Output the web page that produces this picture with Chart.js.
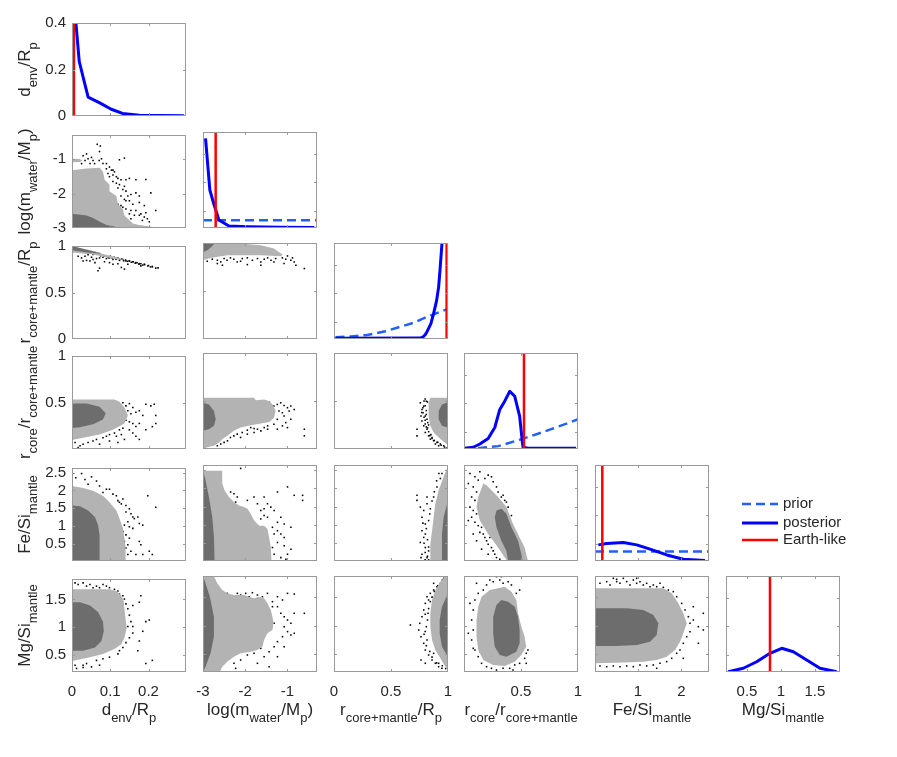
<!DOCTYPE html>
<html><head><meta charset="utf-8">
<script src="https://cdn.jsdelivr.net/npm/chart.js@4/dist/chart.umd.min.js"></script>
<style>html,body{margin:0;padding:0;background:#fff;}#fig{position:relative;width:897px;height:757px;overflow:hidden;background:#fff;}canvas{position:absolute;}</style>
</head><body><div id="fig"></div>
<script>
// ---------------- data ----------------
const VAR_TITLES = ['d_{env}/R_{p}', 'log(m_{water}/M_{p})', 'r_{core+mantle}/R_{p}', 'r_{core}/r_{core+mantle}', 'Fe/Si_{mantle}', 'Mg/Si_{mantle}'];
const VAR_MIN = [0, -3, 0, 0, 0.02, 0.19];
const VAR_MAX = [0.298, -0.3, 1, 1, 2.63, 1.87];
const X_TICKS = [[0, 0.1, 0.2], [-3, -2, -1], [0, 0.5, 1], [0.5, 1], [1, 2], [0.5, 1, 1.5]];
const Y_TICKS = [[0, 0.2, 0.4], [-3, -2, -1], [0, 0.5, 1], [0.5, 1], [0.5, 1, 1.5, 2, 2.5], [0.5, 1, 1.5]];
const DIAG_YMAX = [0.4, 1, 1, 1, 1, 1];
const DIAG_YTICKS = [[0, 0.2, 0.4], [0.18, 0.48, 0.77], [0.18, 0.48, 0.77], [0.18, 0.48, 0.77], [0.18, 0.48, 0.77], [0.18, 0.48, 0.77]];
const EARTH_LIKE = [0.005, -2.70, 0.988, 0.526, 0.187, 0.838];
const LEGEND_LABELS = ['prior', 'posterior', 'Earth-like'];

const post_denv = [[0.006,0.48],[0.0189,0.235],[0.0292,0.166],[0.0422,0.081],[0.0725,0.0565],[0.1027,0.029],[0.132,0.011],[0.176,0.003],[0.2925,0.001]];
const post_logw = [[-2.94,0.934],[-2.838,0.396],[-2.743,0.25],[-2.624,0.083],[-2.386,0.021],[-1.949,0.014],[-1.156,0.008],[-0.364,0.004]];
const prior_logw = [[-3,0.08],[-0.3,0.08]];
const post_rcm = [[0.013,0.008],[0.757,0.01],[0.78,0.02],[0.80,0.045],[0.816,0.076],[0.85,0.16],[0.874,0.267],[0.90,0.40],[0.918,0.543],[0.93,0.72],[0.947,0.994],[0.96,1.3]];
const prior_rcm = [[0.013,0.018],[0.15,0.027],[0.29,0.042],[0.45,0.08],[0.58,0.127],[0.7,0.17],[0.816,0.231],[0.9,0.27],[0.99,0.308]];
const post_rcore = [[0.009,0.007],[0.081,0.018],[0.139,0.052],[0.212,0.110],[0.270,0.224],[0.314,0.412],[0.357,0.498],[0.401,0.601],[0.445,0.549],[0.488,0.343],[0.517,0.018],[0.561,0.007],[0.983,0.007]];
const prior_rcore = [[0.0,0.008],[0.15,0.012],[0.30,0.03],[0.5,0.1],[0.7,0.18],[0.9,0.265],[1.0,0.31]];
const post_fesi = [[0.096,0.168],[0.288,0.182],[0.668,0.193],[0.975,0.168],[1.279,0.123],[1.662,0.063],[2.042,0.018],[2.538,0.004]];
const prior_fesi = [[0.02,0.098],[2.63,0.098]];
const post_mgsi = [[0.224,0.003],[0.445,0.039],[0.642,0.107],[0.838,0.195],[1.011,0.247],[1.182,0.211],[1.379,0.125],[1.575,0.039],[1.821,0.003]];

// 2D panels: light (outer) region, dark (inner) region, scattered samples
const light_1_0 = [[0,-3],[0,-1.321],[0.038,-1.276],[0.0725,-1.248],[0.081,-1.369],[0.0854,-1.602],[0.098,-1.743],[0.098,-1.931],[0.116,-2.072],[0.12,-2.305],[0.133,-2.446],[0.137,-2.634],[0.150,-2.775],[0.159,-2.868],[0.176,-2.916],[0.2096,-2.963],[0.22,-3]];
const light2_1_0 = [[0,-0.99],[0.02,-0.995],[0.027,-1.04],[0.02,-1.085],[0,-1.09]];
const dark_1_0 = [[0,-3],[0,-2.587],[0.038,-2.634],[0.055,-2.71],[0.0725,-2.822],[0.090,-2.916],[0.111,-2.96],[0.12,-3]];
const dots_1_0 = [[0.066,-0.57],[0.074,-0.62],[0.072,-0.78],[0.029,-0.90],[0.038,-0.85],[0.034,-1.04],[0.042,-0.99],[0.051,-0.95],[0.055,-1.04],[0.025,-1.13],[0.047,-1.13],[0.059,-1.13],[0.071,-1.04],[0.077,-0.99],[0.081,-1.13],[0.090,-1.13],[0.124,-1.02],[0.137,-0.97],[0.090,-1.28],[0.098,-1.23],[0.103,-1.32],[0.107,-1.32],[0.111,-1.37],[0.094,-1.42],[0.098,-1.51],[0.107,-1.46],[0.116,-1.51],[0.120,-1.56],[0.128,-1.60],[0.141,-1.60],[0.150,-1.56],[0.167,-1.60],[0.193,-1.59],[0.107,-1.65],[0.116,-1.70],[0.124,-1.74],[0.137,-1.79],[0.120,-1.84],[0.133,-1.88],[0.141,-1.93],[0.146,-2.07],[0.154,-2.03],[0.167,-1.98],[0.176,-2.07],[0.206,-1.98],[0.128,-2.07],[0.137,-2.17],[0.141,-2.21],[0.150,-2.21],[0.159,-2.31],[0.176,-2.26],[0.189,-2.35],[0.120,-2.31],[0.128,-2.35],[0.133,-2.40],[0.141,-2.45],[0.154,-2.49],[0.167,-2.49],[0.180,-2.59],[0.193,-2.56],[0.219,-2.49],[0.150,-2.59],[0.163,-2.63],[0.176,-2.63],[0.189,-2.68],[0.197,-2.73],[0.202,-2.82],[0.184,-2.78],[0.154,-2.73]];

const light_2_0 = [[0,1],[0.14,0.853],[0.12,0.855],[0.05,0.91],[0,0.93]];
const dark_2_0 = [[0,1],[0.08,0.916],[0.04,0.93],[0,0.955]];
const dots_2_0 = [[0.016,0.890],[0.025,0.872],[0.034,0.890],[0.042,0.907],[0.051,0.879],[0.055,0.855],[0.064,0.865],[0.072,0.872],[0.081,0.879],[0.090,0.865],[0.098,0.872],[0.107,0.855],[0.116,0.865],[0.124,0.845],[0.133,0.855],[0.141,0.838],[0.150,0.838],[0.159,0.831],[0.167,0.821],[0.176,0.810],[0.189,0.803],[0.198,0.786],[0.210,0.776],[0.219,0.762],[0.068,0.734],[0.072,0.762],[0.129,0.769],[0.137,0.752],[0.047,0.838],[0.060,0.821],[0.085,0.831],[0.098,0.821],[0.029,0.838],[0.038,0.845],[0.107,0.803],[0.120,0.810],[0.180,0.786],[0.146,0.803],[0.02,0.97],[0.03,0.96],[0.04,0.95],[0.05,0.94],[0.06,0.93],[0.07,0.92],[0.08,0.905],[0.09,0.895],[0.10,0.89],[0.11,0.88],[0.12,0.87],[0.13,0.86],[0.14,0.85],[0.15,0.84],[0.16,0.83],[0.17,0.82],[0.18,0.81],[0.19,0.80],[0.20,0.79],[0.21,0.78],[0.015,0.95],[0.035,0.93],[0.055,0.91],[0.075,0.895],[0.095,0.875],[0.115,0.858],[0.135,0.84],[0.155,0.825],[0.175,0.805],[0.01,0.975],[0.025,0.955],[0.045,0.935],[0.065,0.915],[0.085,0.89],[0.105,0.87],[0.125,0.855],[0.145,0.835],[0.165,0.815],[0.185,0.795],[0.205,0.775],[0.225,0.765]];

const light_2_1 = [[-3,1],[-2.27,1],[-1.63,0.976],[-1.32,0.942],[-1.12,0.879],[-1.15,0.862],[-1.63,0.872],[-2.42,0.872],[-2.82,0.844],[-3,0.82]];
const dark_2_1 = [[-3,1],[-2.72,1],[-2.78,0.97],[-2.88,0.93],[-3,0.90]];
const dots_2_1 = [[-2.90,0.810],[-2.78,0.831],[-2.66,0.820],[-2.58,0.803],[-2.50,0.838],[-2.43,0.820],[-2.35,0.845],[-2.27,0.831],[-2.19,0.803],[-2.07,0.838],[-1.95,0.845],[-1.83,0.820],[-1.71,0.838],[-1.63,0.803],[-1.55,0.831],[-1.47,0.845],[-1.39,0.820],[-1.28,0.838],[-1.20,0.886],[-1.12,0.845],[-1.04,0.831],[-1.00,0.865],[-0.92,0.820],[-0.84,0.803],[-0.80,0.768],[-0.60,0.734],[-2.54,0.768],[-1.95,0.775],[-1.63,0.768],[-2.66,0.786],[-2.11,0.810],[-1.32,0.803],[-1.08,0.786],[-0.88,0.845]];

const light_3_0 = [[0,0.533],[0.111,0.533],[0.124,0.509],[0.137,0.447],[0.146,0.361],[0.137,0.275],[0.107,0.206],[0.072,0.155],[0.029,0.120],[0,0.096]];
const dark_3_0 = [[0,0.488],[0.038,0.488],[0.072,0.454],[0.088,0.385],[0.081,0.316],[0.055,0.265],[0.021,0.234],[0,0.227]];
const dots_3_0 = [[0.111,0.515],[0.120,0.481],[0.133,0.498],[0.141,0.464],[0.150,0.488],[0.159,0.447],[0.146,0.412],[0.154,0.378],[0.167,0.395],[0.176,0.412],[0.185,0.361],[0.193,0.481],[0.206,0.464],[0.215,0.481],[0.219,0.361],[0.141,0.309],[0.150,0.292],[0.159,0.275],[0.167,0.241],[0.176,0.275],[0.133,0.223],[0.124,0.206],[0.111,0.172],[0.098,0.155],[0.090,0.137],[0.081,0.120],[0.064,0.103],[0.055,0.086],[0.042,0.069],[0.029,0.052],[0.021,0.034],[0.116,0.137],[0.129,0.155],[0.150,0.206],[0.159,0.172],[0.167,0.137],[0.176,0.103],[0.072,0.052],[0.098,0.086],[0.120,0.069],[0.137,0.103],[0.193,0.206],[0.210,0.241],[0.219,0.275],[0.008,0.069],[0.016,0.017]];

const light_3_1 = [[-3,0.533],[-1.79,0.533],[-1.75,0.509],[-1.55,0.515],[-1.43,0.498],[-1.35,0.464],[-1.28,0.395],[-1.32,0.326],[-1.43,0.282],[-1.63,0.265],[-1.87,0.247],[-2.11,0.223],[-2.27,0.189],[-2.42,0.137],[-2.54,0.103],[-2.62,0.069],[-2.74,0.034],[-2.90,0.017],[-3,0]];
const dark_3_1 = [[-3,0.481],[-2.86,0.464],[-2.74,0.395],[-2.70,0.309],[-2.74,0.241],[-2.86,0.206],[-3,0.189]];
const dots_3_1 = [[-1.71,0.481],[-1.63,0.464],[-1.51,0.474],[-1.43,0.488],[-1.32,0.447],[-1.24,0.464],[-1.16,0.481],[-1.08,0.454],[-1.00,0.430],[-0.92,0.447],[-0.84,0.412],[-1.20,0.395],[-1.12,0.378],[-1.08,0.344],[-0.96,0.395],[-1.24,0.309],[-1.32,0.258],[-1.47,0.241],[-1.55,0.223],[-1.71,0.206],[-1.79,0.213],[-1.95,0.196],[-2.07,0.172],[-2.19,0.155],[-2.27,0.137],[-2.35,0.120],[-2.42,0.086],[-2.50,0.069],[-2.58,0.052],[-2.66,0.034],[-2.11,0.120],[-1.95,0.155],[-1.79,0.172],[-1.63,0.189],[-1.47,0.206],[-1.24,0.206],[-1.00,0.223],[-0.60,0.206],[-0.60,0.137],[-1.04,0.275],[-0.92,0.309],[-1.12,0.241],[-1.87,0.223]];

const light_3_2 = [[1,0.533],[0.845,0.533],[0.830,0.481],[0.830,0.344],[0.845,0.241],[0.874,0.172],[0.933,0.103],[1,0.04]];
const dark_3_2 = [[1,0.488],[0.947,0.464],[0.918,0.395],[0.918,0.309],[0.947,0.241],[1,0.223]];
const dots_3_2 = [[0.757,0.481],[0.772,0.412],[0.787,0.447],[0.801,0.344],[0.772,0.292],[0.787,0.241],[0.816,0.206],[0.801,0.172],[0.830,0.137],[0.845,0.103],[0.874,0.086],[0.903,0.069],[0.933,0.052],[0.962,0.034],[0.728,0.206],[0.728,0.137],[0.810,0.498],[0.781,0.378],[0.822,0.275],[0.860,0.120],[0.889,0.052],[0.918,0.034],[0.816,0.309],[0.763,0.344],[0.80,0.45],[0.81,0.40],[0.79,0.33],[0.80,0.26],[0.82,0.22],[0.83,0.18],[0.85,0.15],[0.81,0.36],[0.79,0.50],[0.80,0.52],[0.78,0.43],[0.77,0.38],[0.82,0.49],[0.80,0.30],[0.84,0.14],[0.86,0.11],[0.88,0.09],[0.91,0.07],[0.94,0.04],[0.97,0.02],[0.99,0.01],[0.83,0.25],[0.81,0.23]];

const light_4_0 = [[0,2.126],[0.029,2.07],[0.055,1.99],[0.081,1.85],[0.098,1.67],[0.116,1.44],[0.124,1.21],[0.133,0.936],[0.137,0.661],[0.140,0.386],[0.140,0.02],[0,0.02]];
const dark_4_0 = [[0,1.577],[0.021,1.558],[0.042,1.44],[0.060,1.256],[0.068,1.027],[0.072,0.752],[0.072,0.386],[0.072,0.02],[0,0.02]];
const dots_4_0 = [[0.010,2.355],[0.025,2.474],[0.034,2.309],[0.042,2.172],[0.051,2.382],[0.064,2.263],[0.072,2.126],[0.081,1.943],[0.098,2.034],[0.116,1.851],[0.124,1.668],[0.133,1.760],[0.141,1.577],[0.150,1.485],[0.159,1.256],[0.146,1.119],[0.137,1.027],[0.150,0.981],[0.159,0.936],[0.176,1.073],[0.185,1.027],[0.133,0.844],[0.141,0.753],[0.150,0.661],[0.137,0.569],[0.146,0.478],[0.141,0.386],[0.154,0.295],[0.146,0.203],[0.176,0.569],[0.180,0.478],[0.167,0.203],[0.185,0.203],[0.202,0.295],[0.210,0.203],[0.219,1.531],[0.198,1.851],[0.163,1.210],[0.172,1.256],[0.141,1.394],[0.154,1.348],[0.129,1.622],[0.120,1.714],[0.107,1.897],[0.090,2.034]];

const light_4_1 = [[-3,2.474],[-2.544,2.474],[-2.544,2.126],[-2.489,1.943],[-2.385,1.76],[-2.267,1.622],[-2.148,1.531],[-2.029,1.485],[-1.949,1.44],[-1.87,1.302],[-1.791,1.119],[-1.672,0.981],[-1.553,0.981],[-1.473,0.89],[-1.434,0.661],[-1.394,0.386],[-1.378,0.02],[-3,0.02]];
const dark_4_1 = [[-3,2.5],[-2.94,2.217],[-2.86,1.76],[-2.78,1.21],[-2.74,0.661],[-2.726,0.02],[-3,0.02]];
const dots_4_1 = [[-2.108,2.538],[-2.346,1.897],[-2.267,1.851],[-2.187,1.760],[-2.227,1.622],[-1.949,1.668],[-1.791,1.760],[-1.711,1.577],[-1.553,1.760],[-1.473,1.577],[-1.394,1.485],[-1.236,1.897],[-0.998,2.034],[-0.839,1.806],[-0.641,1.806],[-0.641,1.668],[-1.632,1.394],[-1.553,1.256],[-1.473,1.21],[-1.315,1.394],[-1.156,1.21],[-1.236,1.073],[-1.077,1.027],[-1.791,1.073],[-1.711,0.981],[-1.949,1.119],[-1.355,0.936],[-1.236,0.844],[-1.315,0.753],[-1.156,0.753],[-1.077,0.661],[-1.236,0.524],[-1.077,0.432],[-0.918,0.341],[-1.355,0.386],[-1.315,0.203],[-1.156,0.112],[-0.998,0.203],[-1.037,0.066],[-0.918,0.936],[-1.553,1.44],[-1.632,1.165],[-1.870,1.21]];

const light_4_2 = [[1,2.63],[0.991,2.538],[0.962,2.309],[0.918,1.943],[0.889,1.577],[0.874,1.21],[0.860,0.844],[0.845,0.478],[0.845,0.02],[1,0.02]];
const dark_4_2 = [[1,1.668],[0.962,1.21],[0.947,0.753],[0.947,0.02],[1,0.02]];
const dots_4_2 = [[0.728,1.806],[0.728,1.668],[0.757,1.485],[0.787,1.394],[0.772,1.21],[0.801,1.027],[0.772,0.844],[0.787,0.661],[0.757,0.524],[0.801,0.386],[0.772,0.203],[0.816,0.112],[0.830,0.295],[0.801,0.753],[0.830,1.119],[0.845,1.44],[0.874,1.76],[0.903,2.034],[0.933,2.263],[0.947,2.401],[0.816,1.577],[0.763,0.112],[0.816,1.76],[0.82,0.6],[0.81,0.9],[0.83,0.4],[0.79,0.5],[0.80,0.25],[0.82,0.15],[0.78,1.05],[0.84,1.3],[0.86,1.65],[0.88,1.9],[0.90,2.2],[0.92,2.4],[0.8,0.05],[0.83,0.05]];

const light_4_3 = [[0.169,2.126],[0.125,1.76],[0.110,1.485],[0.139,1.119],[0.212,0.753],[0.299,0.386],[0.357,0.112],[0.380,0.02],[0.561,0.02],[0.546,0.203],[0.532,0.386],[0.488,0.661],[0.430,1.027],[0.372,1.485],[0.299,1.76],[0.241,1.943],[0.198,2.08]];
const dark_4_3 = [[0.285,1.394],[0.328,1.44],[0.372,1.302],[0.416,0.936],[0.474,0.569],[0.503,0.203],[0.515,0.02],[0.387,0.02],[0.372,0.295],[0.328,0.569],[0.285,0.936],[0.270,1.21]];
const dots_4_3 = [[0.052,2.401],[0.096,2.309],[0.125,2.218],[0.081,2.034],[0.110,1.897],[0.067,1.760],[0.096,1.668],[0.052,1.485],[0.081,1.394],[0.110,1.302],[0.067,1.21],[0.096,1.073],[0.125,0.981],[0.154,0.936],[0.139,0.798],[0.169,0.753],[0.183,0.661],[0.198,0.569],[0.212,0.478],[0.241,0.386],[0.256,0.295],[0.270,0.203],[0.285,0.112],[0.314,0.066],[0.212,2.355],[0.241,2.309],[0.256,2.172],[0.285,2.034],[0.299,1.897],[0.328,1.760],[0.357,1.668],[0.387,1.485],[0.038,1.119],[0.169,1.119],[0.198,0.936],[0.227,0.661],[0.270,0.569],[0.299,0.478],[0.038,2.126],[0.139,2.446],[0.183,2.263],[0.081,0.753],[0.110,0.569],[0.154,0.341],[0.212,0.203],[0.343,1.806],[0.372,1.622],[0.416,1.256]];

const light_5_0 = [[0,1.683],[0.098,1.683],[0.116,1.654],[0.129,1.566],[0.135,1.479],[0.137,1.333],[0.140,1.158],[0.143,0.983],[0.137,0.808],[0.129,0.692],[0.111,0.604],[0.081,0.517],[0.047,0.458],[0,0.388]];
const dark_5_0 = [[0,1.45],[0.021,1.45],[0.047,1.391],[0.068,1.275],[0.081,1.1],[0.083,0.925],[0.077,0.75],[0.060,0.633],[0.029,0.575],[0,0.575]];
const dots_5_0 = [[0.008,1.80],[0.016,1.771],[0.029,1.80],[0.038,1.742],[0.047,1.771],[0.055,1.713],[0.064,1.742],[0.072,1.713],[0.081,1.771],[0.090,1.742],[0.098,1.713],[0.111,1.683],[0.120,1.654],[0.124,1.596],[0.133,1.566],[0.137,1.508],[0.141,1.421],[0.146,1.333],[0.150,1.217],[0.154,1.10],[0.146,1.013],[0.159,1.013],[0.159,0.896],[0.150,0.808],[0.141,0.721],[0.133,0.633],[0.124,0.575],[0.120,0.517],[0.098,0.458],[0.081,0.429],[0.064,0.40],[0.038,0.342],[0.029,0.313],[0.008,0.313],[0.159,1.391],[0.176,1.45],[0.193,1.10],[0.202,1.129],[0.185,0.925],[0.176,0.75],[0.172,0.575],[0.193,0.342],[0.210,0.40],[0.180,1.566],[0.012,0.254],[0.051,0.283],[0.072,0.313],[0.029,0.272]];

const light_5_1 = [[-3,1.87],[-2.742,1.87],[-2.663,1.742],[-2.544,1.625],[-2.425,1.566],[-2.267,1.537],[-2.029,1.537],[-1.910,1.508],[-1.791,1.479],[-1.672,1.508],[-1.553,1.479],[-1.473,1.391],[-1.394,1.275],[-1.355,1.158],[-1.331,1.042],[-1.355,0.925],[-1.473,0.867],[-1.553,0.75],[-1.592,0.633],[-1.711,0.575],[-1.870,0.546],[-2.108,0.517],[-2.267,0.458],[-2.425,0.371],[-2.544,0.283],[-2.600,0.19],[-3,0.19]];
const dark_5_1 = [[-3,1.87],[-2.94,1.742],[-2.837,1.508],[-2.742,1.158],[-2.742,0.808],[-2.821,0.517],[-2.94,0.283],[-3,0.19]];
const dots_5_1 = [[-2.425,1.566],[-2.306,1.508],[-2.187,1.566],[-2.108,1.537],[-1.989,1.566],[-1.910,1.508],[-1.830,1.578],[-1.711,1.537],[-1.592,1.508],[-1.473,1.566],[-1.355,1.421],[-1.236,1.508],[-1.117,1.45],[-0.998,1.566],[-0.839,1.555],[-1.236,1.333],[-1.156,1.217],[-1.077,1.158],[-0.998,1.10],[-0.918,1.042],[-1.077,0.983],[-0.998,0.896],[-0.918,0.838],[-0.839,0.867],[-1.117,0.808],[-1.236,0.721],[-1.315,0.633],[-1.077,0.633],[-0.839,1.217],[-0.600,1.217],[-1.632,0.604],[-1.791,0.517],[-1.949,0.488],[-2.108,0.40],[-2.267,0.342],[-2.346,0.458],[-1.711,0.342],[-1.553,0.458],[-1.434,0.546],[-1.236,0.458],[-1.434,0.283],[-1.315,1.042],[-1.355,1.333],[-2.227,0.254]];

const light_5_2 = [[1,1.87],[0.977,1.87],[0.933,1.771],[0.889,1.625],[0.860,1.45],[0.845,1.217],[0.845,0.983],[0.860,0.75],[0.889,0.575],[0.933,0.429],[0.977,0.283],[1,0.225]];
const dark_5_2 = [[1,1.566],[0.947,1.333],[0.927,1.10],[0.927,0.867],[0.947,0.633],[1,0.458]];
const dots_5_2 = [[0.962,1.829],[0.933,1.742],[0.903,1.683],[0.874,1.625],[0.845,1.566],[0.816,1.508],[0.801,1.391],[0.787,1.275],[0.772,1.158],[0.752,1.042],[0.743,0.925],[0.763,0.808],[0.787,0.692],[0.801,0.575],[0.830,0.488],[0.860,0.40],[0.889,0.342],[0.918,0.283],[0.947,0.254],[0.845,1.421],[0.825,1.217],[0.810,0.983],[0.816,0.75],[0.874,0.517],[0.670,1.013],[0.763,0.40],[0.801,0.342],[0.918,0.342],[0.874,1.742],[0.83,1.3],[0.82,1.1],[0.8,0.9],[0.81,0.65],[0.84,0.55],[0.86,0.45],[0.9,0.35],[0.95,0.3],[0.98,0.25],[0.99,1.85],[0.95,1.8],[0.91,1.7],[0.88,1.6],[0.86,1.5],[0.83,1.45],[0.80,1.2],[0.79,0.85]];

const light_5_3 = [[0.357,1.683],[0.227,1.625],[0.154,1.508],[0.125,1.333],[0.110,1.10],[0.110,0.808],[0.125,0.575],[0.169,0.40],[0.256,0.313],[0.357,0.295],[0.445,0.371],[0.503,0.488],[0.546,0.633],[0.532,0.808],[0.503,0.983],[0.474,1.217],[0.459,1.45],[0.416,1.596]];
const dark_5_3 = [[0.328,1.45],[0.387,1.421],[0.445,1.333],[0.474,1.158],[0.488,0.925],[0.488,0.692],[0.459,0.546],[0.372,0.458],[0.314,0.488],[0.270,0.633],[0.256,0.867],[0.256,1.158],[0.285,1.362]];
const dots_5_3 = [[0.285,1.858],[0.314,1.80],[0.256,1.771],[0.343,1.742],[0.387,1.771],[0.416,1.713],[0.198,1.713],[0.169,1.625],[0.125,1.566],[0.096,1.45],[0.081,1.275],[0.067,1.10],[0.081,0.925],[0.067,0.75],[0.096,0.575],[0.125,0.458],[0.154,0.342],[0.198,0.283],[0.241,0.254],[0.285,0.225],[0.343,0.254],[0.401,0.254],[0.445,0.313],[0.488,0.342],[0.532,0.429],[0.546,0.517],[0.561,0.575],[0.052,1.391],[0.038,0.867],[0.110,1.742],[0.227,1.80],[0.488,1.625],[0.459,1.566],[0.430,0.225],[0.328,1.858],[0.081,0.604],[0.139,0.546],[0.169,1.421],[0.546,0.342]];

const light_5_4 = [[0.02,1.654],[1.584,1.654],[1.775,1.566],[1.928,1.391],[2.042,1.217],[2.119,1.042],[2.042,0.867],[1.966,0.721],[1.852,0.575],[1.661,0.458],[1.432,0.40],[1.127,0.371],[0.516,0.354],[0.02,0.342]];
const dark_5_4 = [[0.02,1.304],[0.745,1.304],[1.127,1.275],[1.355,1.187],[1.470,1.042],[1.432,0.838],[1.279,0.721],[0.974,0.663],[0.516,0.646],[0.02,0.646]];
const dots_5_4 = [[0.134,1.742],[0.287,1.771],[0.363,1.713],[0.440,1.829],[0.516,1.771],[0.592,1.742],[0.669,1.829],[0.745,1.771],[0.821,1.713],[0.898,1.80],[0.974,1.742],[1.050,1.771],[1.127,1.713],[1.203,1.742],[1.279,1.683],[1.355,1.713],[1.432,1.683],[1.508,1.742],[1.584,1.671],[1.699,1.625],[1.813,1.596],[1.890,1.508],[2.004,1.391],[2.081,1.275],[2.157,1.158],[2.195,1.042],[2.271,1.10],[2.386,0.983],[2.500,0.925],[2.195,0.896],[2.119,0.808],[2.042,0.692],[1.966,0.575],[1.890,0.517],[1.775,0.429],[1.661,0.371],[1.508,0.342],[1.355,0.313],[1.203,0.296],[1.050,0.313],[0.898,0.283],[0.745,0.296],[0.592,0.283],[0.440,0.296],[0.287,0.283],[0.134,0.296],[1.432,0.254],[2.271,1.333],[2.500,1.217],[2.386,0.692],[2.042,0.429],[0.516,1.812],[0.974,1.829]];

// tables built from the arrays above
const POSTERIOR = [post_denv, post_logw, post_rcm, post_rcore, post_fesi, post_mgsi];
const PRIOR = [null, prior_logw, prior_rcm, prior_rcore, prior_fesi, null];
const PAIRS = {
  '1_0': {light: [light_1_0, light2_1_0], dark: [dark_1_0], dots: dots_1_0},
  '2_0': {light: [light_2_0], dark: [dark_2_0], dots: dots_2_0},
  '2_1': {light: [light_2_1], dark: [dark_2_1], dots: dots_2_1},
  '3_0': {light: [light_3_0], dark: [dark_3_0], dots: dots_3_0},
  '3_1': {light: [light_3_1], dark: [dark_3_1], dots: dots_3_1},
  '3_2': {light: [light_3_2], dark: [dark_3_2], dots: dots_3_2},
  '4_0': {light: [light_4_0], dark: [dark_4_0], dots: dots_4_0},
  '4_1': {light: [light_4_1], dark: [dark_4_1], dots: dots_4_1},
  '4_2': {light: [light_4_2], dark: [dark_4_2], dots: dots_4_2},
  '4_3': {light: [light_4_3], dark: [dark_4_3], dots: dots_4_3},
  '5_0': {light: [light_5_0], dark: [dark_5_0], dots: dots_5_0},
  '5_1': {light: [light_5_1], dark: [dark_5_1], dots: dots_5_1},
  '5_2': {light: [light_5_2], dark: [dark_5_2], dots: dots_5_2},
  '5_3': {light: [light_5_3], dark: [dark_5_3], dots: dots_5_3},
  '5_4': {light: [light_5_4], dark: [dark_5_4], dots: dots_5_4}
};

// ---------------- layout & style ----------------
const COL_X = [72, 203, 334, 464, 595, 726];
const ROW_Y = [20, 132, 243, 353, 465, 576];
const PW = 114, PH = 96;
const PADL = 72, PADT = 12, PADB = 66, PADR = 22;
const FRAME_COLOR = '#9a9a9a';
const TEXT_COLOR = '#262626';
const LIGHT_GRAY = '#b3b3b3', DARK_GRAY = '#6d6d6d';
const BLUE = '#0000ff', PRIOR_BLUE = '#2060ff', RED = '#ff0000';
const FONT_FAMILY = '"Liberation Sans", Arial, Helvetica, sans-serif';
const SUB_SHIFT = 7;

Chart.defaults.font.family = FONT_FAMILY;
Chart.defaults.font.size = 15;
Chart.defaults.color = TEXT_COLOR;

const toXY = arr => arr.map(p => ({x: p[0], y: p[1]}));

function richSegments(s) {
  const segs = []; const re = /_\{([^}]*)\}/g; let last = 0, m;
  while ((m = re.exec(s))) {
    if (m.index > last) segs.push({t: s.slice(last, m.index), sub: false});
    segs.push({t: m[1], sub: true}); last = re.lastIndex;
  }
  if (last < s.length) segs.push({t: s.slice(last), sub: false});
  return segs;
}
function drawRich(ctx, s, cx, baseY) {
  const segs = richSegments(s);
  const mainFont = '17px ' + FONT_FAMILY, subFont = '13px ' + FONT_FAMILY;
  let total = 0;
  segs.forEach(g => { ctx.font = g.sub ? subFont : mainFont; g.w = ctx.measureText(g.t).width; total += g.w; });
  let x = cx - total / 2;
  ctx.fillStyle = TEXT_COLOR; ctx.textAlign = 'left'; ctx.textBaseline = 'alphabetic';
  segs.forEach(g => { ctx.font = g.sub ? subFont : mainFont; ctx.fillText(g.t, x, baseY + (g.sub ? SUB_SHIFT : 0)); x += g.w; });
}

const framePlugin = {
  id: 'frame',
  beforeDatasetsDraw(chart) {
    const a = chart.chartArea, ctx = chart.ctx;
    ctx.save(); ctx.beginPath(); ctx.rect(a.left, a.top, a.right - a.left, a.bottom - a.top); ctx.clip();
  },
  afterDatasetsDraw(chart) { chart.ctx.restore(); },
  afterDraw(chart, args, opts) {
    const a = chart.chartArea, ctx = chart.ctx;
    const xs = chart.scales.x, ys = chart.scales.y;
    ctx.save();
    ctx.strokeStyle = FRAME_COLOR; ctx.lineWidth = 1;
    ctx.beginPath();
    xs.ticks.forEach(t => {
      const p = Math.round(xs.getPixelForValue(t.value)) + 0.5;
      if (p < a.left + 2 || p > a.right - 2) return;
      ctx.moveTo(p, a.bottom); ctx.lineTo(p, a.bottom - 3);
      ctx.moveTo(p, a.top); ctx.lineTo(p, a.top + 3);
    });
    ys.ticks.forEach(t => {
      const p = Math.round(ys.getPixelForValue(t.value)) + 0.5;
      if (p < a.top + 2 || p > a.bottom - 2) return;
      ctx.moveTo(a.left, p); ctx.lineTo(a.left + 3, p);
      ctx.moveTo(a.right, p); ctx.lineTo(a.right - 3, p);
    });
    ctx.stroke();
    ctx.strokeRect(a.left + 0.5, a.top + 0.5, a.right - a.left - 1, a.bottom - a.top - 1);
    if (opts.xTitle) drawRich(ctx, opts.xTitle, (a.left + a.right) / 2, a.bottom + 43);
    if (opts.yTitle) {
      ctx.save();
      ctx.translate(a.left - 42, (a.top + a.bottom) / 2);
      ctx.rotate(-Math.PI / 2);
      drawRich(ctx, opts.yTitle, 0, 0);
      ctx.restore();
    }
    if (opts.legend) {
      const rows = [39, 58, 75];
      LEGEND_LABELS.forEach((lab, i) => {
        const ds = chart.data.datasets.find(d => d.label === lab);
        if (!ds) return;
        const y = a.top + rows[i];
        ctx.save();
        ctx.strokeStyle = ds.borderColor; ctx.lineWidth = ds.borderWidth;
        ctx.setLineDash(ds.borderDash || []);
        ctx.beginPath(); ctx.moveTo(a.right + 33, y); ctx.lineTo(a.right + 69, y); ctx.stroke();
        ctx.restore();
        ctx.font = '15px ' + FONT_FAMILY; ctx.fillStyle = TEXT_COLOR;
        ctx.textAlign = 'left'; ctx.textBaseline = 'middle';
        ctx.fillText(lab, a.right + 74, y);
      });
    }
    ctx.restore();
  }
};

function diagDatasets(c, yMin, yMax) {
  const ds = [];
  ds.push({label: 'Earth-like', data: [{x: EARTH_LIKE[c], y: yMin}, {x: EARTH_LIKE[c], y: yMax}], showLine: true, borderColor: RED, borderWidth: 2.5, pointRadius: 0});
  ds.push({label: 'posterior', data: toXY(POSTERIOR[c]), showLine: true, borderColor: BLUE, borderWidth: 3, pointRadius: 0, borderJoinStyle: 'round'});
  if (PRIOR[c]) ds.push({label: 'prior', data: toXY(PRIOR[c]), showLine: true, borderColor: PRIOR_BLUE, borderWidth: 2.5, borderDash: [9, 5], pointRadius: 0});
  return ds;
}
function regionDs(poly, color) {
  return {data: toXY(poly), showLine: true, fill: 'shape', backgroundColor: color, borderColor: 'rgba(0,0,0,0)', borderWidth: 0, pointRadius: 0, tension: 0};
}
function pairDatasets(r, c) {
  const p = PAIRS[r + '_' + c];
  const ds = [];
  p.dark.forEach(poly => ds.push(regionDs(poly, DARK_GRAY)));
  p.light.forEach(poly => ds.push(regionDs(poly, LIGHT_GRAY)));
  ds.push({data: toXY(p.dots), pointStyle: 'rect', pointRadius: 1.1, backgroundColor: '#000', borderWidth: 0});
  return ds;
}

const fig = document.getElementById('fig');
function buildPanel(r, c) {
  const diag = r === c;
  const legend = (r === 4 && c === 4);
  const padR = legend ? 150 : PADR;
  const W = PADL + PW + padR, H = PADT + PH + PADB;
  const cv = document.createElement('canvas');
  cv.width = W; cv.height = H;
  cv.style.left = (COL_X[c] - PADL) + 'px'; cv.style.top = (ROW_Y[r] - PADT) + 'px';
  cv.style.width = W + 'px'; cv.style.height = H + 'px';
  fig.appendChild(cv);
  let yMin, yMax, yTicks;
  if (diag) { yMin = 0; yMax = DIAG_YMAX[c]; yTicks = DIAG_YTICKS[c]; }
  else { yMin = VAR_MIN[r]; yMax = VAR_MAX[r]; yTicks = Y_TICKS[r]; }
  const datasets = diag ? diagDatasets(c, yMin, yMax) : pairDatasets(r, c);
  new Chart(cv, {
    type: 'scatter',
    data: {datasets},
    options: {
      responsive: false, animation: false, events: [],
      layout: {padding: {top: PADT, right: padR, left: 0, bottom: 0}},
      plugins: {
        legend: {display: false}, tooltip: {enabled: false},
        frame: {xTitle: r === 5 ? VAR_TITLES[c] : null, yTitle: (c === 0) ? VAR_TITLES[r] : null, legend}
      },
      scales: {
        x: {
          type: 'linear', position: 'bottom', min: VAR_MIN[c], max: VAR_MAX[c],
          grid: {display: false, drawTicks: false}, border: {display: false},
          afterFit(s) { s.height = PADB; },
          afterBuildTicks(s) { s.ticks = X_TICKS[c].map(v => ({value: v})); },
          ticks: {display: r === 5, autoSkip: false, maxRotation: 0, minRotation: 0, padding: 11, font: {size: 15}, color: TEXT_COLOR, callback: v => String(v)}
        },
        y: {
          type: 'linear', position: 'left', min: yMin, max: yMax,
          grid: {display: false, drawTicks: false}, border: {display: false},
          afterFit(s) { s.width = PADL; },
          afterBuildTicks(s) { s.ticks = yTicks.map(v => ({value: v})); },
          ticks: {display: c === 0, autoSkip: false, padding: 6, font: {size: 15}, color: TEXT_COLOR, callback: v => String(v)}
        }
      }
    },
    plugins: [framePlugin]
  });
}
for (let r = 0; r < 6; r++) for (let c = 0; c <= r; c++) buildPanel(r, c);
</script></body></html>
